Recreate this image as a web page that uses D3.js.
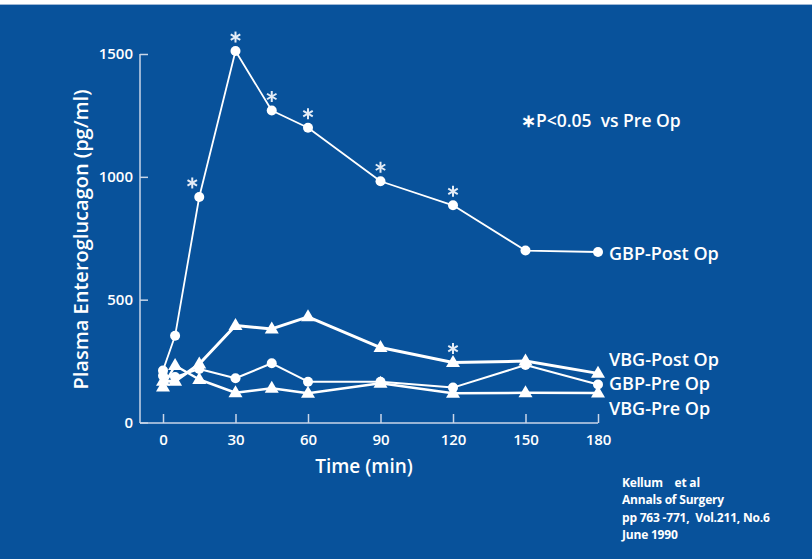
<!DOCTYPE html>
<html>
<head>
<meta charset="utf-8">
<script src="https://cdn.jsdelivr.net/npm/d3@7/dist/d3.min.js"></script>
<style>
  html, body { margin: 0; padding: 0; background: #ffffff; }
  svg { display: block; }
  text { font-family: "Open Sans", "Noto Sans", sans-serif; fill: #ffffff; }
</style>
</head>
<body>
<script>
// ---- data ----
const times = [0, 5, 15, 30, 45, 60, 90, 120, 150, 180];
const gbpPost = [212, 353, 918, 1512, 1270, 1200, 982, 884, 700, 694];
const vbgPost = [168, 168, 238, 395, 381, 430, 305, 244, 250, 200];
const gbpPre  = [190, 185, 218, 180, 241, 166, 166, 142, 234, 155];
const vbgPre  = [145, 232, 175, 121, 139, 119, 160, 119, 121, 120];
const gbpPostSig = [15, 30, 45, 60, 90, 120];
const vbgPostSig = [120];
const seriesNames = ["GBP-Post Op", "VBG-Post Op", "GBP-Pre Op", "VBG-Pre Op"];
const xTicks = [0, 30, 60, 90, 120, 150, 180];
const yTicks = [0, 500, 1000, 1500];
const citation = ["Kellum\u00a0\u00a0\u00a0\u00a0et al", "Annals of Surgery", "pp 763 -771,\u00a0\u00a0Vol.211, No.6", "June 1990"];

const W = 812, H = 559;
const bg = "#08529b";
const axisCol = "#c9d6e8";

const svg = d3.select("body").append("svg").attr("width", W).attr("height", H);
svg.append("rect").attr("x", 0).attr("y", 4).attr("width", W).attr("height", H - 4).attr("fill", bg);
svg.append("line").attr("x1", 0).attr("x2", W).attr("y1", 4.5).attr("y2", 4.5).attr("stroke", "#9fb8d6").attr("stroke-width", 1);

const x = d3.scaleLinear().domain([0, 180]).range([163, 598]);
const y = d3.scaleLinear().domain([0, 1500]).range([422.5, 54]);
const axisX0 = 140; // y-axis position

// y axis
const yAxis = svg.append("g").attr("transform", `translate(${axisX0},0)`)
  .call(d3.axisLeft(y).tickValues(yTicks).tickSizeInner(-8).tickSizeOuter(0).tickPadding(7).tickFormat(d3.format("d")));
yAxis.select(".domain").remove();
yAxis.selectAll(".tick line").attr("stroke", axisCol).attr("stroke-width", 1.5);
yAxis.selectAll(".tick text").attr("fill", "#fff").style("font-size", "15px").style("font-weight", 600).style("font-family", '"Open Sans", sans-serif');
svg.append("line").attr("x1", axisX0).attr("x2", axisX0).attr("y1", y(1500)).attr("y2", y(0) + 0.5)
  .attr("stroke", axisCol).attr("stroke-width", 1.5);

// x axis
const xAxisY = y(0) + 0.5;
const xAxis = svg.append("g").attr("transform", `translate(0,${xAxisY})`)
  .call(d3.axisBottom(x).tickValues(xTicks).tickSizeInner(-9).tickSizeOuter(0).tickPadding(11));
xAxis.select(".domain").remove();
xAxis.selectAll(".tick line").attr("stroke", axisCol).attr("stroke-width", 1.5);
xAxis.selectAll(".tick text").attr("fill", "#fff").style("font-size", "15px").style("font-weight", 600).style("font-family", '"Open Sans", sans-serif');
svg.append("line").attr("x1", axisX0).attr("x2", x(180)).attr("y1", xAxisY).attr("y2", xAxisY)
  .attr("stroke", axisCol).attr("stroke-width", 1.5);

// axis titles
svg.append("text").attr("transform", `translate(88,${(87 + 392) / 2}) rotate(-90)`)
  .attr("text-anchor", "middle").style("font-size", "20px").style("font-weight", 600)
  .text("Plasma Enteroglucagon (pg/ml)");
svg.append("text").attr("x", 364).attr("y", 473).attr("text-anchor", "middle")
  .style("font-size", "19px").style("font-weight", 600).text("Time (min)");

// series
const series = [
  { name: seriesNames[0], vals: gbpPost, marker: "circle", w: 1.8, sig: gbpPostSig, labelY: 260 },
  { name: seriesNames[1], vals: vbgPost, marker: "triangle", w: 3, sig: vbgPostSig, labelY: 366 },
  { name: seriesNames[2], vals: gbpPre, marker: "circle", w: 2, sig: [], labelY: 390 },
  { name: seriesNames[3], vals: vbgPre, marker: "triangle", w: 2.5, sig: [], labelY: 415 }
];

const line = d3.line().x(d => x(d.t)).y(d => y(d.v));
const triPath = "M0,-7.5L7,4.5L-7,4.5Z";

series.forEach(s => {
  const pts = times.map((t, i) => ({ t, v: s.vals[i] }));
  const g = svg.append("g");
  g.append("path").datum(pts).attr("d", line).attr("fill", "none")
    .attr("stroke", "#fff").attr("stroke-width", s.w).attr("stroke-linejoin", "round");
  if (s.marker === "circle") {
    g.selectAll("circle").data(pts).join("circle")
      .attr("cx", d => x(d.t)).attr("cy", d => y(d.v)).attr("r", 5).attr("fill", "#fff");
  } else {
    g.selectAll("path.m").data(pts).join("path").attr("class", "m")
      .attr("transform", d => `translate(${x(d.t)},${y(d.v)})`).attr("d", triPath).attr("fill", "#fff");
  }
  // significance asterisks (nudged off the steep rising segment)
  s.sig.forEach(t => {
    const i = times.indexOf(t);
    const v = s.vals[i];
    const steep = i > 0 && (s.vals[i + 1] || 0) > v && (v - s.vals[i - 1]) > 300;
    const cx = x(t) + (steep ? -7 : 0), cy = y(v) - 14;
    const r = 5.5;
    const ast = svg.append("g").attr("transform", `translate(${cx},${cy})`);
    [90, 30, -30].forEach(a => {
      const rad = a * Math.PI / 180;
      ast.append("line")
        .attr("x1", -r * Math.cos(rad)).attr("y1", -r * Math.sin(rad))
        .attr("x2", r * Math.cos(rad)).attr("y2", r * Math.sin(rad))
        .attr("stroke", "#e4ecf6").attr("stroke-width", 2);
    });
  });
  svg.append("text").attr("x", 609).attr("y", s.labelY)
    .style("font-size", "18px").style("font-weight", 600).text(s.name);
});

// significance note
svg.append("text").attr("x", 521).attr("y", 127).attr("xml:space", "preserve")
  .style("white-space", "pre").style("font-size", "17.5px").style("font-weight", 600)
  .text("\u2217P<0.05  vs Pre Op");

// citation
svg.append("g").selectAll("text").data(citation).join("text")
  .attr("x", 622).attr("y", (d, i) => 487 + i * 17.3)
  .style("font-size", "12px").style("font-weight", 700).style("letter-spacing", "-0.2px")
  .text(d => d);
</script>
</body>
</html>
